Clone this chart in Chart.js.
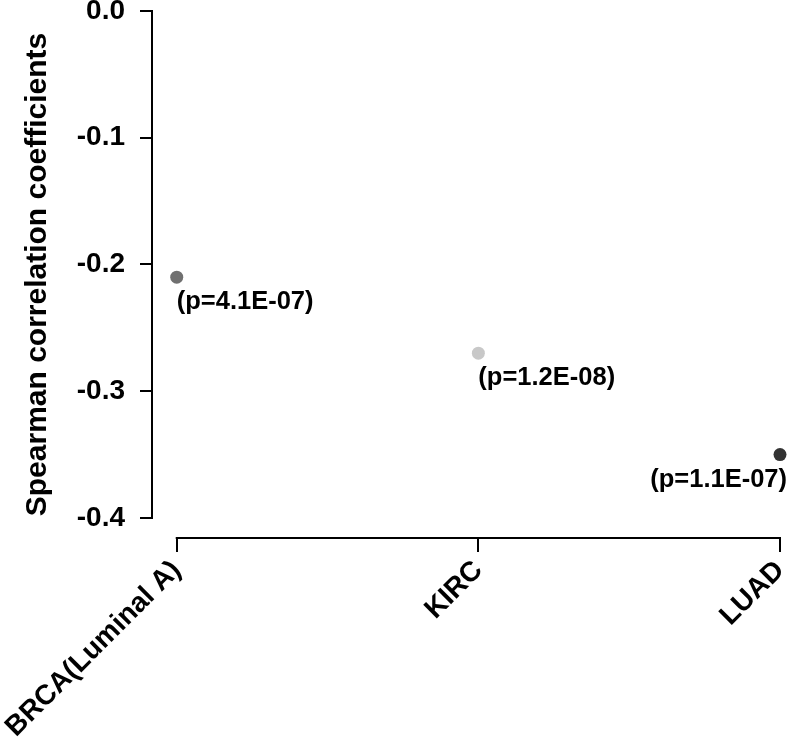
<!DOCTYPE html>
<html><head><meta charset="utf-8">
<script src="https://cdn.jsdelivr.net/npm/chart.js@4"></script>
<style>html,body{margin:0;padding:0;background:#fff}#wrap{width:792px;height:738px}</style>
</head><body><div id="wrap"><canvas id="c" width="792" height="738"></canvas></div>
<script>
const categories = ['BRCA(Luminal A)', 'KIRC', 'LUAD'];
const coefficients = [-0.21, -0.27, -0.35];
const pValueLabels = ['(p=4.1E-07)', '(p=1.2E-08)', '(p=1.1E-07)'];
const pointColors = ['#707070', '#c8c8c8', '#333333'];
const yTickValues = [0, -0.1, -0.2, -0.3, -0.4];
const yAxisTitle = 'Spearman correlation coefficients';

const FONT = '"Liberation Sans", Arial, sans-serif';

const axesPlugin = {
  id: 'axesAndLabels',
  afterDraw(chart) {
    const ctx = chart.ctx;
    const xs = chart.scales.x, ys = chart.scales.y;
    const area = chart.chartArea;
    ctx.save();
    ctx.strokeStyle = '#000';
    ctx.lineWidth = 2;
    ctx.lineCap = 'square';
    ctx.beginPath();
    ctx.moveTo(area.left, ys.getPixelForValue(yTickValues[0]));
    ctx.lineTo(area.left, ys.getPixelForValue(yTickValues[yTickValues.length - 1]));
    ctx.moveTo(xs.getPixelForValue(0), area.bottom);
    ctx.lineTo(xs.getPixelForValue(categories.length - 1), area.bottom);
    ctx.stroke();
    // p-value labels
    const meta = chart.getDatasetMeta(0);
    ctx.fillStyle = '#000';
    ctx.font = 'bold 25.5px ' + FONT;
    ctx.textBaseline = 'middle';
    meta.data.forEach((pt, i) => {
      const last = i === meta.data.length - 1;
      ctx.textAlign = last ? 'right' : 'left';
      ctx.fillText(pValueLabels[i], last ? pt.x + 7 : pt.x, pt.y + 25);
    });
    ctx.restore();
  }
};

new Chart(document.getElementById('c'), {
  type: 'scatter',
  data: {
    datasets: [{
      data: coefficients.map((v, i) => ({ x: i, y: v })),
      backgroundColor: pointColors,
      borderWidth: 0,
      pointRadius: 6.5,
      pointHoverRadius: 6.5,
      clip: false
    }]
  },
  options: {
    responsive: false,
    animation: false,
    devicePixelRatio: 1,
    layout: { padding: { top: 11, right: 12, left: 0, bottom: 0 } },
    plugins: { legend: { display: false }, tooltip: { enabled: false } },
    scales: {
      x: {
        type: 'linear',
        min: -0.082,
        max: 2,
        afterBuildTicks: s => { s.ticks = categories.map((_, i) => ({ value: i })); },
        afterFit: s => { s.height = 200; s.paddingLeft = 0; s.paddingRight = 0; },
        ticks: {
          autoSkip: false,
          minRotation: 45,
          maxRotation: 45,
          padding: 2,
          color: '#000',
          font: { family: FONT, size: 28, weight: 'bold' },
          callback: v => categories[v]
        },
        grid: { drawOnChartArea: false, drawTicks: true, tickLength: 14, color: '#000', lineWidth: 2 },
        border: { display: false }
      },
      y: {
        min: -0.4158,
        max: 0,
        afterBuildTicks: s => { s.ticks = yTickValues.map(v => ({ value: v })); },
        afterFit: s => { s.width = 152; s.paddingTop = 0; s.paddingBottom = 0; },
        ticks: {
          padding: 15,
          color: '#000',
          font: { family: FONT, size: 28, weight: 'bold' },
          callback: v => v.toFixed(1)
        },
        grid: { drawOnChartArea: false, drawTicks: true, tickLength: 12, color: '#000', lineWidth: 2 },
        border: { display: false },
        title: {
          display: true,
          text: yAxisTitle,
          color: '#000',
          font: { family: FONT, size: 30, weight: 'bold' },
          padding: { top: 20, bottom: 0 }
        }
      }
    }
  },
  plugins: [axesPlugin]
});
</script>
</body></html>
